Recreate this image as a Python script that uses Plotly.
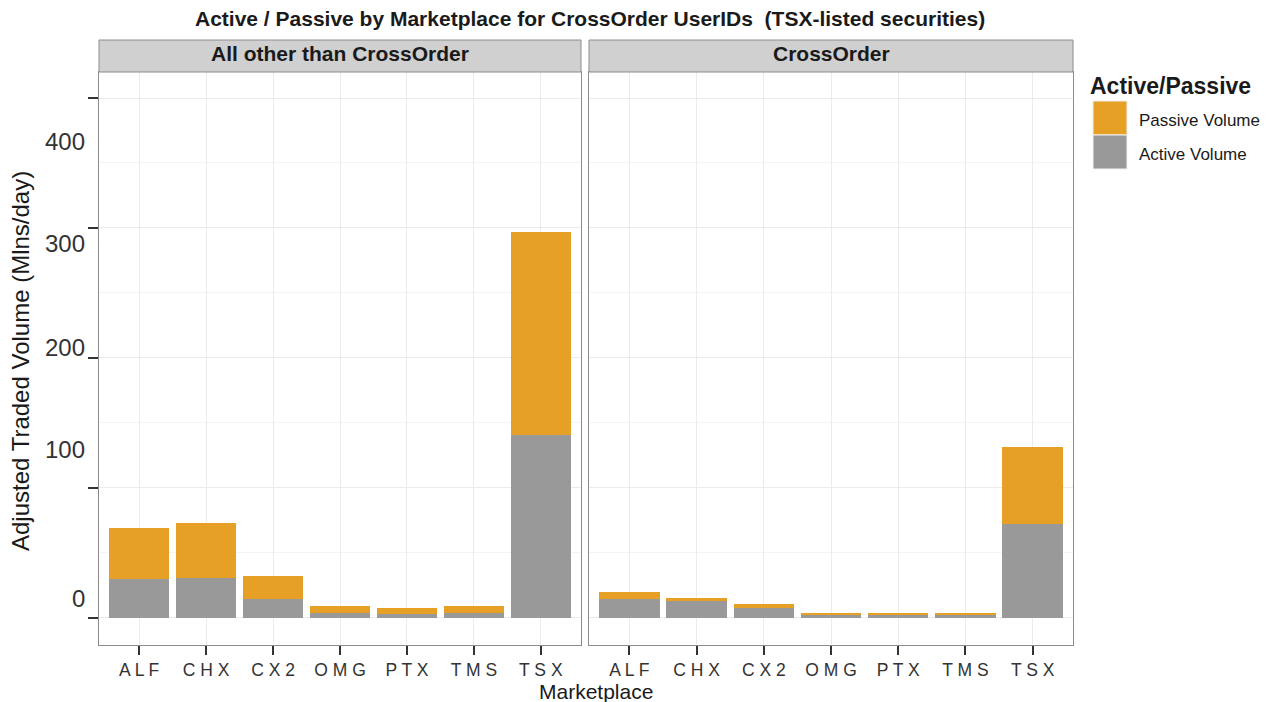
import plotly.graph_objects as go

# ---------------- data ----------------
markets = ["ALF", "CHX", "CX2", "OMG", "PTX", "TMS", "TSX"]
facets = ["All other than CrossOrder", "CrossOrder"]

other_active = [29.7, 30.8, 14.6, 3.5, 3.4, 4.1, 140.8]
other_passive = [39.5, 42.0, 17.7, 5.7, 4.1, 5.1, 155.9]
cross_active = [14.4, 12.8, 7.7, 2.3, 2.3, 2.3, 72.3]
cross_passive = [5.4, 2.6, 3.3, 1.0, 1.0, 1.0, 59.2]

y_ticks = [0, 100, 200, 300, 400]
y_minor = [50, 150, 250, 350]
tick_labels = ["0", "100", "200", "300", "400"]
label_shift = [19, 38, 10, -16, -44]  # offset of printed labels vs. tick marks (px)

title = "Active / Passive by Marketplace for CrossOrder UserIDs  (TSX-listed securities)"
y_title = "Adjusted Traded Volume (Mlns/day)"
x_title = "Marketplace"
legend_title = "Active/Passive"
series_names = ["Passive Volume", "Active Volume"]
colors = {"Passive Volume": "#E6A025", "Active Volume": "#999999"}

# ---------------- layout helpers ----------------
OFF = 8                                   # page body margin
W, H = 1272 - OFF, 702 - OFF
L, R, T, B = 99 - OFF, 1073 - OFF, 40 - OFF, 645 - OFF   # plotting area in figure px


def px_x(x):
    return (x - OFF - L) / (R - L)


def px_y(y):
    return (B - (y - OFF)) / (B - T)


FONT = "Liberation Sans, Arial, sans-serif"
xtext = [" ".join(m) for m in markets]

fig = go.Figure()
panels = [("x", "y", other_active, other_passive), ("x2", "y2", cross_active, cross_passive)]
for xa, ya, act, pas in panels:
    fig.add_trace(go.Bar(x=markets, y=act, name="Active Volume", xaxis=xa, yaxis=ya,
                         marker=dict(color=colors["Active Volume"], line=dict(width=0)),
                         showlegend=False))
    fig.add_trace(go.Bar(x=markets, y=pas, name="Passive Volume", xaxis=xa, yaxis=ya,
                         marker=dict(color=colors["Passive Volume"], line=dict(width=0)),
                         showlegend=False))

panel_top = px_y(72)
border = "#8c8c8c"
grid = "#ebebeb"

common_x = dict(type="category", categoryorder="array", categoryarray=markets,
                range=[-0.6, 6.6], tickvals=markets, ticktext=xtext,
                ticks="outside", ticklen=9, tickwidth=1.5, tickcolor="#333333",
                tickfont=dict(family=FONT, size=17.5, color="#333333"),
                showgrid=True, gridcolor=grid, gridwidth=1,
                showline=True, mirror=True, linecolor=border, linewidth=1,
                zeroline=False)
common_y = dict(range=[-20.8, 420], tickvals=y_ticks, showticklabels=False,
                showgrid=True, gridcolor=grid, gridwidth=1,
                minor=dict(tickvals=y_minor, showgrid=True, gridcolor="#f4f4f4", gridwidth=1, ticks=""),
                showline=True, mirror=True, linecolor=border, linewidth=1,
                zeroline=False, domain=[0, panel_top])

fig.update_layout(
    width=W, height=H,
    margin=dict(l=L, r=W - R, t=T, b=H - B, pad=0),
    paper_bgcolor="white", plot_bgcolor="white",
    barmode="stack", bargap=0.1,
    showlegend=False,
    xaxis=dict(common_x, domain=[0, px_x(581)], anchor="y"),
    xaxis2=dict(common_x, domain=[px_x(589), 1], anchor="y2"),
    yaxis=dict(common_y, anchor="x", ticks="outside", ticklen=10, tickwidth=1.5, tickcolor="#333333"),
    yaxis2=dict(common_y, anchor="x2", matches="y", ticks=""),
    font=dict(family=FONT, color="#1a1a1a"),
)

shapes = []
annotations = []

# strips
for xa, name in zip(["x", "x2"], facets):
    shapes.append(dict(type="rect", xref=f"{xa} domain", yref="paper",
                       x0=0, x1=1, y0=panel_top, y1=1,
                       fillcolor="#d0d0d0", line=dict(color=border, width=1), layer="above"))
    annotations.append(dict(text=f"<b>{name}</b>", xref=f"{xa} domain", yref="paper",
                            x=0.5, y=px_y(54), xanchor="center", yanchor="middle",
                            showarrow=False, font=dict(family=FONT, size=21, color="#1a1a1a")))

# y tick labels (as printed, offset from ticks)
for v, lab, s in zip(y_ticks, tick_labels, label_shift):
    annotations.append(dict(text=lab, xref="paper", yref="y", x=0, y=v, xshift=-12, yshift=s,
                            xanchor="right", yanchor="middle", showarrow=False,
                            font=dict(family=FONT, size=24, color="#333333")))

# titles
annotations.append(dict(text=f"<b>{title}</b>", xref="paper", yref="paper",
                        x=px_x(590), y=px_y(19), xanchor="center", yanchor="middle",
                        showarrow=False, font=dict(family=FONT, size=21, color="#1a1a1a")))
annotations.append(dict(text=y_title, xref="paper", yref="paper", textangle=-90,
                        x=px_x(20), y=px_y(361), xanchor="center", yanchor="middle",
                        showarrow=False, font=dict(family=FONT, size=24, color="#1a1a1a")))
annotations.append(dict(text=x_title, xref="paper", yref="paper",
                        x=px_x(596), y=px_y(691), xanchor="center", yanchor="middle",
                        showarrow=False, font=dict(family=FONT, size=21, color="#1a1a1a")))

# legend (drawn)
annotations.append(dict(text=f"<b>{legend_title}</b>", xref="paper", yref="paper",
                        x=px_x(1088), y=px_y(86), xanchor="left", yanchor="middle",
                        showarrow=False, font=dict(family=FONT, size=23, color="#1a1a1a")))
for i, nm in enumerate(series_names):
    top = 101 + i * 34
    shapes.append(dict(type="rect", xref="paper", yref="paper",
                       x0=px_x(1093), x1=px_x(1127), y0=px_y(top + 34), y1=px_y(top),
                       fillcolor=colors[nm], line=dict(color="#f2f2f2", width=1)))
    annotations.append(dict(text=nm, xref="paper", yref="paper",
                            x=px_x(1137), y=px_y(top + 19), xanchor="left", yanchor="middle",
                            showarrow=False, font=dict(family=FONT, size=17, color="#1a1a1a")))

fig.update_layout(shapes=shapes, annotations=annotations)
fig.write_html("out.html")
